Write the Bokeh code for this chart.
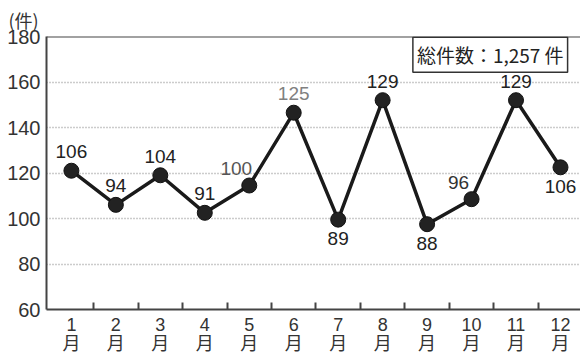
from bokeh.plotting import figure
from bokeh.models import (ColumnDataSource, Range1d, FixedTicker, Span, Label)
from bokeh.core.properties import value
from bokeh.embed import file_html
from bokeh.resources import INLINE

# ---- data ----
months = [1, 2, 3, 4, 5, 6, 7, 8, 9, 10, 11, 12]
month_labels = ["1\n月", "2\n月", "3\n月", "4\n月", "5\n月", "6\n月",
                "7\n月", "8\n月", "9\n月", "10\n月", "11\n月", "12\n月"]
# positions as drawn on the axis in the picture
plotted = [121, 106, 119, 102.5, 114.5, 146.5, 99.5, 152, 97.5, 108.5, 152, 122.5]
# printed counts
counts = ["106", "94", "104", "91", "100", "125", "89", "129", "88", "96", "129", "106"]
label_place = ["above", "above", "above", "above", "above_left", "above",
               "below", "above", "below", "above_left", "above", "below"]
label_color = ["#222222", "#222222", "#222222", "#222222", "#555555", "#808080",
               "#222222", "#222222", "#222222", "#333333", "#222222", "#222222"]
y_ticks = [60, 80, 100, 120, 140, 160, 180]
total_text = "総件数：1,257 件"
unit_text = "(件)"

LATIN = "Liberation Sans, Noto Sans CJK JP"
CJK = "Noto Sans CJK JP"

offs = {"above": (0, -19), "below": (0, 19), "above_left": (-13, -17)}
xo = [offs[k][0] for k in label_place]
yo = [offs[k][1] for k in label_place]

src = ColumnDataSource(dict(x=months, y=plotted, t=counts, xo=xo, yo=yo, c=label_color))

p = figure(width=580, height=356, output_backend="svg", toolbar_location=None,
           x_range=Range1d(0.44, 12.45), y_range=Range1d(60, 180),
           min_border_left=46, min_border_right=0, min_border_top=34,
           min_border_bottom=42, title=unit_text)
p.background_fill_color = "white"
p.border_fill_color = "white"
p.outline_line_color = None

p.title.text_font = CJK
p.title.text_font_size = "18px"
p.title.text_font_style = "normal"
p.title.text_color = "#333333"
p.title.align = "left"
p.title.offset = -38
p.title.standoff = 8

# axes
p.yaxis.ticker = FixedTicker(ticks=y_ticks)
p.yaxis.major_tick_out = 0
p.yaxis.major_tick_in = 0
p.yaxis.minor_tick_out = 0
p.yaxis.minor_tick_in = 0
p.yaxis.axis_line_color = "#444444"
p.yaxis.axis_line_width = 2
p.yaxis.major_label_text_font = LATIN
p.yaxis.major_label_text_font_size = "20px"
p.yaxis.major_label_text_color = "#333333"
p.yaxis.major_label_standoff = 6

p.xaxis.ticker = FixedTicker(ticks=months, minor_ticks=[m + 0.5 for m in months[:-1]])
p.xaxis.major_label_overrides = {m: l for m, l in zip(months, month_labels)}
p.xaxis.major_tick_out = 0
p.xaxis.major_tick_in = 0
p.xaxis.minor_tick_in = 7
p.xaxis.minor_tick_out = 0
p.xaxis.minor_tick_line_color = "#444444"
p.xaxis.minor_tick_line_width = 2
p.xaxis.axis_line_color = "#444444"
p.xaxis.axis_line_width = 2
p.xaxis.major_label_text_font = LATIN
p.xaxis.major_label_text_font_size = "18px"
p.xaxis.major_label_text_color = "#333333"
p.xaxis.major_label_text_line_height = 0.95
p.xaxis.major_label_standoff = 5

p.xgrid.grid_line_color = None
p.ygrid.ticker = FixedTicker(ticks=y_ticks[1:-1])
p.ygrid.grid_line_color = "#999999"
p.ygrid.grid_line_dash = "1 2"
p.ygrid.grid_line_width = 1.5

p.add_layout(Span(location=180, dimension="width", line_color="#444444", line_width=2))

# series
p.line("x", "y", source=src, line_color="#1a1a1a", line_width=3.5)
p.scatter("x", "y", source=src, size=15, fill_color="#222222", line_color="#111111")
p.text("x", "y", text="t", source=src, x_offset="xo", y_offset="yo",
       text_color="c", text_font=value(LATIN), text_font_size="19px",
       text_align="center", text_baseline="middle")

# total box
p.add_layout(Label(x=10.42, y=172, text=total_text, text_font=CJK,
                   text_font_size="19px", text_color="#222222",
                   text_align="center", text_baseline="middle",
                   border_line_color="#333333", border_line_width=1.5,
                   background_fill_color="white", padding=4))

open("out.html", "w").write(file_html(p, INLINE))
